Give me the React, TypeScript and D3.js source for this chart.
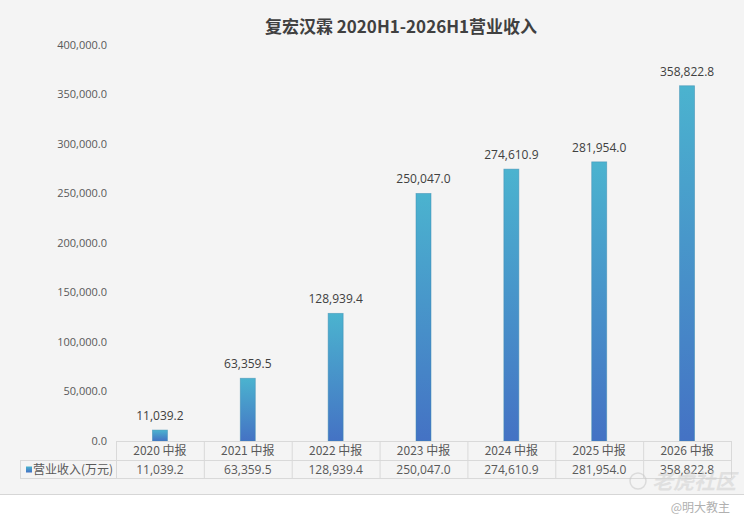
import React from 'react';
import * as d3 from 'd3';

const categories = ['2020 中报', '2021 中报', '2022 中报', '2023 中报', '2024 中报', '2025 中报', '2026 中报'];
const revenue = [11039.2, 63359.5, 128939.4, 250047.0, 274610.9, 281954.0, 358822.8];
const yTicks = [0, 50000, 100000, 150000, 200000, 250000, 300000, 350000, 400000];
const seriesName = '营业收入(万元)';
const title = '复宏汉霖 2020H1-2026H1营业收入';

const W = 744;
const H = 524;
const fontCn = '"Noto Sans CJK SC", "Noto Sans", sans-serif';
const fontNum = '"Open Sans", "Noto Sans", sans-serif';

export default function App() {
    // plot area bounds
    const left = 116;
    const right = 731;
    const top = 45;
    const bottom = 441;
    const row1 = 460;
    const row2 = 478;
    const legendLeft = 20;

    const x = d3.scaleBand<string>().domain(categories).range([left, right]).padding(0);
    const y = d3.scaleLinear().domain([0, 400000]).range([bottom, top]);
    const fmt = d3.format(',.1f');
    const barW = 15;

    return (
        <svg width={W} height={H} style={{ position: 'absolute', left: 0, top: 0 }}>
            <defs>
                <linearGradient id="barGrad" x1="0" y1="0" x2="0" y2="1">
                    <stop offset="0%" stopColor="#4bb3cf" />
                    <stop offset="100%" stopColor="#4472c4" />
                </linearGradient>
            </defs>
            <rect x={0} y={0} width={W} height={H} fill="#ffffff" />
            <rect x={0} y={0} width={W} height={494} fill="#f4f4f4" />
            <line x1={0} x2={W} y1={494.5} y2={494.5} stroke="#d6d6d6" strokeWidth={1} />

            {/* title */}
            <text x={401} y={33} textAnchor="middle" fontFamily={fontCn} fontWeight="bold" fontSize={17} fill="#404040">
                {title}
            </text>

            {/* y axis labels */}
            {yTicks.map(t => (
                <text key={t} x={107} y={y(t)} dy="0.35em" textAnchor="end" fontFamily={fontNum} fontSize={11} fill="#595959">
                    {fmt(t)}
                </text>
            ))}

            {/* bars */}
            {revenue.map((v, i) => {
                const cx = x(categories[i])! + x.bandwidth() / 2;
                return (
                    <g key={i}>
                        <rect
                            x={cx - barW / 2}
                            y={y(v)}
                            width={barW}
                            height={bottom - y(v)}
                            fill="url(#barGrad)"
                            stroke="#3d8db3"
                            strokeOpacity={0.6}
                            strokeWidth={0.8}
                        />
                        <text x={cx} y={y(v) - 10} textAnchor="middle" fontFamily={fontNum} fontSize={12} fill="#404040">
                            {fmt(v)}
                        </text>
                    </g>
                );
            })}

            {/* data table */}
            <g stroke="#d9d9d9" strokeWidth={1} fill="none">
                <line x1={left} x2={right} y1={bottom + 0.5} y2={bottom + 0.5} />
                <line x1={legendLeft} x2={right} y1={row1 + 0.5} y2={row1 + 0.5} />
                <line x1={legendLeft} x2={right} y1={row2 + 0.5} y2={row2 + 0.5} />
                <line x1={legendLeft + 0.5} x2={legendLeft + 0.5} y1={row1} y2={row2} />
                {categories.map(c => (
                    <line key={c} x1={x(c)! + 0.5} x2={x(c)! + 0.5} y1={bottom} y2={row2} />
                ))}
                <line x1={right + 0.5} x2={right + 0.5} y1={bottom} y2={row2} />
            </g>
            {categories.map((c, i) => {
                const cx = x(c)! + x.bandwidth() / 2;
                return (
                    <g key={c}>
                        <text x={cx} y={455} textAnchor="middle" fontFamily={fontCn} fontSize={12} fill="#595959">
                            {c}
                        </text>
                        <text x={cx} y={474} textAnchor="middle" fontFamily={fontNum} fontSize={12} fill="#595959">
                            {fmt(revenue[i])}
                        </text>
                    </g>
                );
            })}
            <rect x={26} y={466.5} width={6} height={6} fill="url(#barGrad)" />
            <text x={33} y={474} fontFamily={fontCn} fontSize={12} fill="#595959">
                {seriesName}
            </text>

            {/* watermarks */}
            <g opacity={0.55}>
                <circle cx={638} cy={481} r={8} fill="none" stroke="#c8c8c8" strokeWidth={1.5} />
                <text x={652} y={489} fontFamily={fontCn} fontSize={21} fontWeight="bold" fill="#d0d0d0" fontStyle="italic">
                    老虎社区
                </text>
            </g>
            <text x={730} y={512} textAnchor="end" fontFamily={fontCn} fontSize={12} fill="#b0b0b0">
                @明大教主
            </text>
        </svg>
    );
}
